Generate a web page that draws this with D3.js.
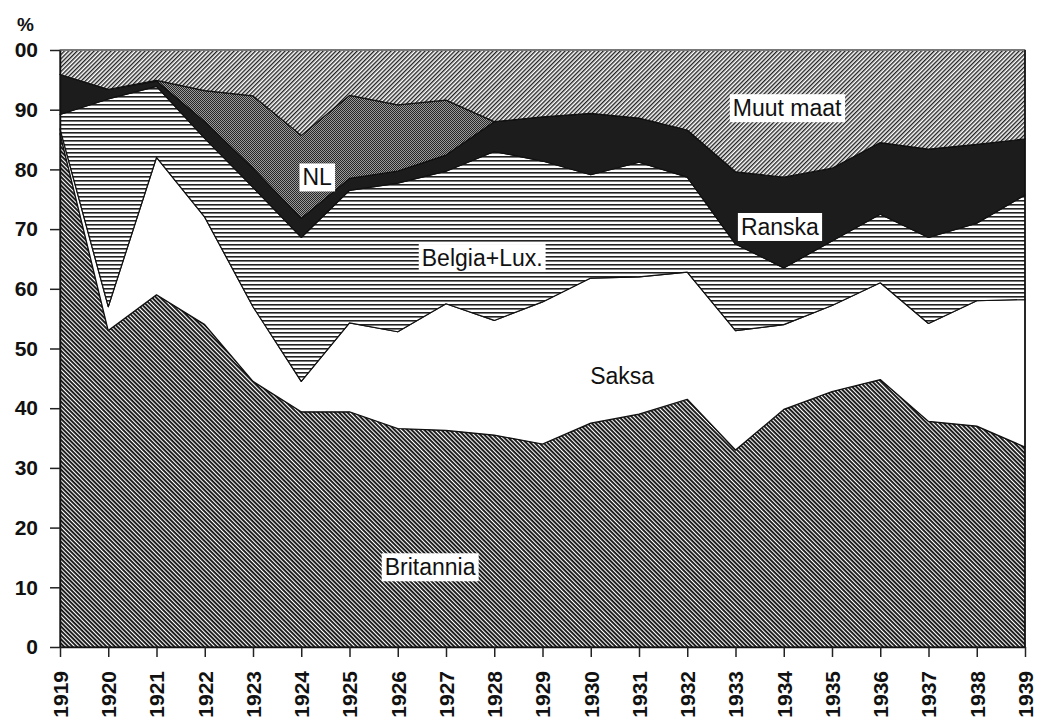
<!DOCTYPE html>
<html>
<head>
<meta charset="utf-8">
<script src="https://cdn.jsdelivr.net/npm/d3@7"></script>
<style>
  body { margin: 0; background: #fff; }
  svg { display: block; font-family: 'Liberation Sans', Arial, sans-serif; }
</style>
</head>
<body>
<div id="chart"></div>
<script>
// shares of each country, per cent
const years = [1919, 1920, 1921, 1922, 1923, 1924, 1925, 1926, 1927, 1928, 1929,
               1930, 1931, 1932, 1933, 1934, 1935, 1936, 1937, 1938, 1939]

const britannia = [86, 53, 59, 54, 44.5, 39.4, 39.4, 36.6, 36.3, 35.5, 34, 37.5, 39, 41.5, 33, 39.8, 42.8, 44.8, 37.8, 37, 33.5]
const saksa = [0.8, 4, 23, 18, 12.5, 5.1, 14.9, 16.2, 21.2, 19.2, 23.8, 24.3, 23, 21.3, 20, 14.2, 14.4, 16.2, 16.4, 21, 24.7]
const belgiaLux = [2.4, 34.8, 11.9, 13.2, 20, 24.1, 22.2, 24.9, 22.2, 28.3, 23.6, 17.3, 19.2, 15.9, 14.5, 9.5, 10.8, 11.5, 14.4, 13, 17.5]
const ranska = [6.7, 1.6, 0.9, 2.8, 3.2, 3.2, 2, 2, 2.7, 5, 7.4, 10.3, 7.4, 7.9, 12.1, 15.2, 12.2, 12, 14.8, 13.2, 9.4]
const nl = [0, 0, 0.1, 5.2, 12.1, 13.9, 13.9, 11.1, 9.2, 0, 0, 0, 0, 0, 0, 0, 0, 0, 0, 0, 0]
const muutMaat = [4.1, 6.6, 5.1, 6.8, 7.7, 14.3, 7.6, 9.2, 8.4, 12, 11.2, 10.6, 11.4, 13.4, 20.4, 21.3, 19.8, 15.5, 16.6, 15.8, 14.9]

const seriesKeys = ['Britannia', 'Saksa', 'Belgia+Lux.', 'Ranska', 'NL', 'Muut maat']
const seriesValues = [britannia, saksa, belgiaLux, ranska, nl, muutMaat]

const yTicks = [0, 10, 20, 30, 40, 50, 60, 70, 80, 90, 100]
const yTickLabels = ['0', '10', '20', '30', '40', '50', '60', '70', '80', '90', '00']

// where the area names sit, in year / per cent units
const areaLabels = [
    {text: 'Muut maat', year: 1934.07, value: 90.3, box: true},
    {text: 'NL', year: 1924.33, value: 78.7, box: true},
    {text: 'Ranska', year: 1933.92, value: 70.4, box: true},
    {text: 'Belgia+Lux.', year: 1927.75, value: 65.2, box: true},
    {text: 'Saksa', year: 1930.65, value: 45.4, box: false},
    {text: 'Britannia', year: 1926.67, value: 13.4, box: true}
]

// build rows for d3.stack
const rows = years.map((yr, i) => {
    const row = {year: yr}
    seriesKeys.forEach((k, j) => { row[k] = seriesValues[j][i] })
    return row
})

const width = 1037
const height = 720

const svg = d3.select('#chart')
    .append('svg')
    .attr('width', width)
    .attr('height', height)

// hatch patterns like the printed original
const defs = svg.append('defs')

const brit = defs.append('pattern')
    .attr('id', 'pBrit')
    .attr('patternUnits', 'userSpaceOnUse')
    .attr('width', 3).attr('height', 3)
    .attr('patternTransform', 'rotate(45)')
brit.append('rect').attr('width', 3).attr('height', 3).attr('fill', '#fff')
brit.append('rect').attr('width', 3).attr('height', 1.9).attr('fill', '#151515')

const muut = defs.append('pattern')
    .attr('id', 'pMuut')
    .attr('patternUnits', 'userSpaceOnUse')
    .attr('width', 3).attr('height', 3)
    .attr('patternTransform', 'rotate(-45)')
muut.append('rect').attr('width', 3).attr('height', 3).attr('fill', '#fff')
muut.append('rect').attr('width', 3).attr('height', 1.4).attr('fill', '#222')

const belg = defs.append('pattern')
    .attr('id', 'pBelg')
    .attr('patternUnits', 'userSpaceOnUse')
    .attr('width', 4).attr('height', 4)
belg.append('rect').attr('width', 4).attr('height', 4).attr('fill', '#fff')
belg.append('rect').attr('width', 4).attr('height', 1.6).attr('fill', '#222')

const dots = defs.append('pattern')
    .attr('id', 'pNL')
    .attr('patternUnits', 'userSpaceOnUse')
    .attr('width', 2).attr('height', 2)
dots.append('rect').attr('width', 2).attr('height', 2).attr('fill', '#9a9a9a')
dots.append('rect').attr('width', 1).attr('height', 1).attr('fill', '#262626')
dots.append('rect').attr('x', 1).attr('y', 1).attr('width', 1).attr('height', 1).attr('fill', '#262626')

const fills = {
    'Britannia': 'url(#pBrit)',
    'Saksa': '#fff',
    'Belgia+Lux.': 'url(#pBelg)',
    'Ranska': '#1c1c1c',
    'NL': 'url(#pNL)',
    'Muut maat': 'url(#pMuut)'
}

const xScale = d3.scaleLinear()
    .domain([1919, 1939])
    .range([60, 1025])

const yScale = d3.scaleLinear()
    .domain([0, 100])
    .range([647, 50])

const stacked = d3.stack().keys(seriesKeys)(rows)

const area = d3.area()
    .x(d => xScale(d.data.year))
    .y0(d => yScale(d[0]))
    .y1(d => yScale(d[1]))

svg.append('g')
    .selectAll('path')
    .data(stacked)
    .enter()
    .append('path')
        .attr('d', area)
        .attr('fill', d => fills[d.key])
        .attr('stroke', '#111')
        .attr('stroke-width', 1.2)
        .attr('stroke-linejoin', 'round')

// frame: grey top edge, black right edge
svg.append('line')
    .attr('x1', xScale(1919)).attr('x2', xScale(1939))
    .attr('y1', yScale(100)).attr('y2', yScale(100))
    .attr('stroke', '#777').attr('stroke-width', 2)

svg.append('line')
    .attr('x1', xScale(1939)).attr('x2', xScale(1939))
    .attr('y1', yScale(100)).attr('y2', yScale(0))
    .attr('stroke', '#111').attr('stroke-width', 1.5)

// y axis
const yAxis = svg.append('g')
    .attr('transform', `translate(${xScale(1919)}, 0)`)
    .call(d3.axisLeft(yScale)
        .tickValues(yTicks)
        .tickSize(10)
        .tickSizeOuter(0)
        .tickFormat((d, i) => yTickLabels[i]))

yAxis.select('.domain').attr('stroke', '#111').attr('stroke-width', 1.5)
yAxis.selectAll('.tick line').attr('stroke', '#222').attr('stroke-width', 1.5)
yAxis.selectAll('.tick text')
    .attr('x', -22)
    .attr('font-size', '21px')
    .attr('font-weight', 'bold')
    .attr('fill', '#111')
    .attr('font-family', "'Liberation Sans', Arial, sans-serif")

svg.append('text')
    .attr('x', 17)
    .attr('y', 31)
    .attr('font-size', '19px')
    .attr('font-weight', 'bold')
    .attr('fill', '#111')
    .text('%')

// x axis with rotated years
const xAxis = svg.append('g')
    .attr('transform', `translate(0, ${yScale(0)})`)
    .call(d3.axisBottom(xScale)
        .tickValues(years)
        .tickSize(10)
        .tickSizeOuter(0)
        .tickFormat(d3.format('d')))

xAxis.select('.domain').attr('stroke', '#111').attr('stroke-width', 1.5)
xAxis.selectAll('.tick line').attr('stroke', '#222').attr('stroke-width', 1.5)
xAxis.selectAll('.tick text')
    .attr('transform', 'rotate(-90)')
    .attr('x', -24)
    .attr('y', 0)
    .attr('dy', '0.35em')
    .attr('text-anchor', 'end')
    .attr('font-size', '21px')
    .attr('font-weight', 'bold')
    .attr('fill', '#111')
    .attr('font-family', "'Liberation Sans', Arial, sans-serif")

// area names, most of them on a white box
const labelG = svg.append('g')

areaLabels.forEach(l => {
    const g = labelG.append('g')
    const t = g.append('text')
        .attr('x', xScale(l.year))
        .attr('y', yScale(l.value))
        .attr('dy', '0.36em')
        .attr('text-anchor', 'middle')
        .attr('font-size', '23px')
        .attr('fill', '#111')
        .text(l.text)
    if (l.box) {
        const bb = t.node().getBBox()
        g.insert('rect', 'text')
            .attr('x', bb.x - 3)
            .attr('y', bb.y - 1)
            .attr('width', bb.width + 6)
            .attr('height', bb.height + 2)
            .attr('fill', '#fff')
    }
})
</script>
</body>
</html>
